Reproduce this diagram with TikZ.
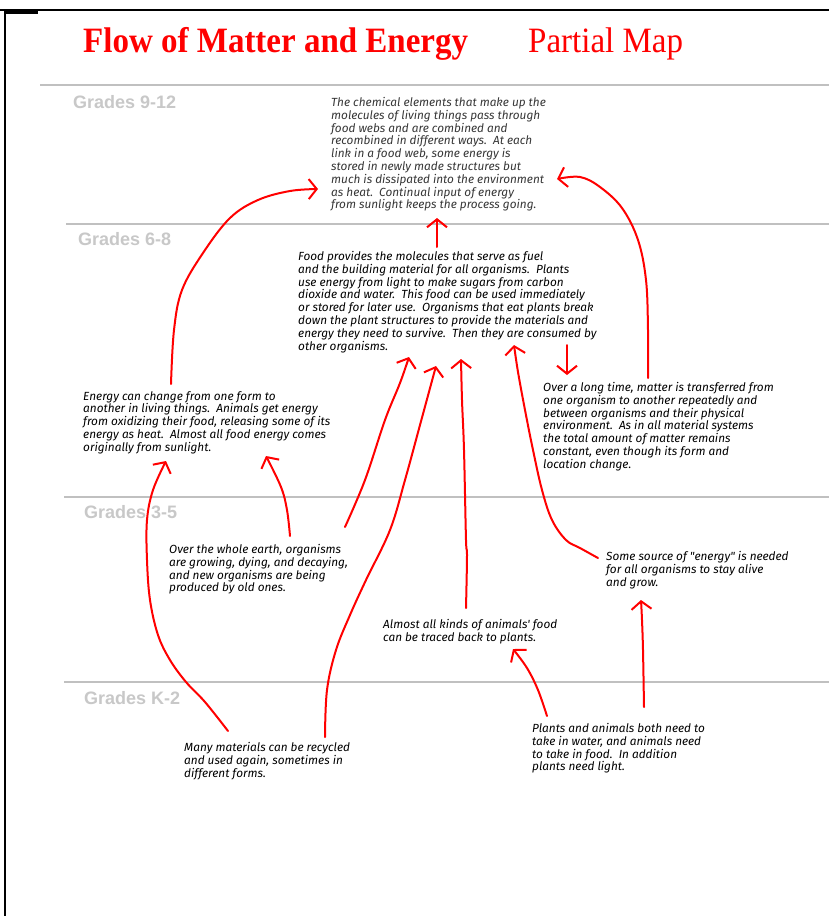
\documentclass[tikz,border=0pt]{standalone}
\usepackage{fontspec}
\setmainfont{Liberation Serif}
\newfontfamily\hand{Fira Sans}
\newfontfamily\gradefont{Liberation Sans}
\usetikzlibrary{arrows.meta}
\definecolor{mapred}{RGB}{255,0,0}
\definecolor{gradegray}{RGB}{200,200,200}
\definecolor{linegray}{RGB}{192,192,192}
\definecolor{txtgray}{RGB}{55,55,55}
\begin{document}
\begin{tikzpicture}[x=1pt,y=-1pt,
  body/.style={anchor=north west, inner sep=0pt, align=left, font=\hand\itshape\fontsize{11.8}{12.8}\selectfont},
  grade/.style={anchor=base west, inner sep=0pt, text=gradegray, font=\gradefont\bfseries\fontsize{18}{20}\selectfont},
  sepline/.style={draw=linegray, line width=2pt},
  arr/.style={draw=mapred, line width=2pt, line cap=round, line join=round,
    -{Straight Barb[length=8pt,width=20pt,line width=2pt]}},
  titlefont/.style={anchor=base west, inner sep=0pt, text=mapred, font=\fontsize{33}{36}\selectfont},
]
\useasboundingbox (0,0) rectangle (829,916);
\fill[white] (0,0) rectangle (829,916);
% frame
\draw[line width=2pt] (0,10) -- (829,10);
\draw[line width=2pt] (5,10) -- (5,916);
\draw[line width=3pt] (4,12) -- (38,12);
% title
\node[titlefont, font=\bfseries\fontsize{33}{36}\selectfont, yscale=1.08] (title) at (83,52) {Flow of Matter and Energy};
\node[titlefont, yscale=1.08] (partial) at (528,52) {Partial Map};
% separators
\draw[sepline] (40,85) -- (829,85);
\draw[sepline] (66,224) -- (829,224);
\draw[sepline] (64,497) -- (829,497);
\draw[sepline] (64,682) -- (829,682);
% grade labels
\node[grade] (g912) at (73,108) {Grades 9-12};
\node[grade] (g68) at (78,245) {Grades 6-8};
\node[grade] (g35) at (84,518) {Grades 3-5};
\node[grade] (gk2) at (84,704) {Grades K-2};
% texts
\node[body, text=txtgray] (t912) at (331,97) {The chemical elements that make up the\\
molecules of living things pass through\\
food webs and are combined and\\
recombined in different ways.\ \ At each\\
link in a food web, some energy is\\
stored in newly made structures but\\
much is dissipated into the environment\\
as heat.\ \ Continual input of energy\\
from sunlight keeps the process going.};
\node[body] (t68) at (298,251) {Food provides the molecules that serve as fuel\\
and the building material for all organisms.\ \ Plants\\
use energy from light to make sugars from carbon\\
dioxide and water.\ \ This food can be used immediately\\
or stored for later use.\ \ Organisms that eat plants break\\
down the plant structures to provide the materials and\\
energy they need to survive.\ \ Then they are consumed by\\
other organisms.};
\node[body] (tleft) at (83,391) {Energy can change from one form to\\
another in living things.\ \ Animals get energy\\
from oxidizing their food, releasing some of its\\
energy as heat.\ \ Almost all food energy comes\\
originally from sunlight.};
\node[body] (tright) at (543,382) {Over a long time, matter is transferred from\\
one organism to another repeatedly and\\
between organisms and their physical\\
environment.\ \ As in all material systems\\
the total amount of matter remains\\
constant, even though its form and\\
location change.};
\node[body] (tearth) at (169,544) {Over the whole earth, organisms\\
are growing, dying, and decaying,\\
and new organisms are being\\
produced by old ones.};
\node[body] (tsource) at (606,551) {Some source of "energy" is needed\\
for all organisms to stay alive\\
and grow.};
\node[body] (tanimals) at (383,619) {Almost all kinds of animals' food\\
can be traced back to plants.};
\node[body] (tmany) at (184,742) {Many materials can be recycled\\
and used again, sometimes in\\
different forms.};
\node[body] (tplants) at (532,723) {Plants and animals both need to\\
take in water, and animals need\\
to take in food.\ \ In addition\\
plants need light.};
% arrow end coordinates
\coordinate (A0) at (171,384);  \coordinate (A1) at (318,189);
\coordinate (B0) at (648,378);  \coordinate (B1) at (557,179);
\coordinate (C0) at (437,247);  \coordinate (C1) at (437,218);
\coordinate (D0) at (567,345);  \coordinate (D1) at (567,375);
\coordinate (E0) at (345,527);  \coordinate (E1) at (409,357);
\coordinate (F0) at (325,737);  \coordinate (F1) at (436,366);
\coordinate (G0) at (466,608);  \coordinate (G1) at (461,359);
\coordinate (H0) at (598,558);  \coordinate (H1) at (514,345);
\coordinate (I0) at (547,716);  \coordinate (I1) at (513,649);
\coordinate (J0) at (644,707);  \coordinate (J1) at (641,600);
\coordinate (K0) at (228,731);  \coordinate (K1) at (166,461);
\coordinate (L0) at (290,536);  \coordinate (L1) at (266,456);
% arrows
\draw[arr] plot[smooth, tension=0.6] coordinates {(A0) (174,330) (182,290) (203,253) (230,218) (258,200) (290,191) (A1)};
\draw[arr] plot[smooth, tension=0.6] coordinates {(B0) (648,330) (646,280) (638,240) (622,208) (600,187) (580,177) (B1)};
\draw[arr] (C0) -- (C1);
\draw[arr] (D0) -- (D1);
\draw[arr] plot[smooth, tension=0.6] coordinates {(E0) (365,480) (385,420) (400,383) (E1)};
\draw[arr] plot[smooth, tension=0.6] coordinates {(F0) (327,690) (336,650) (350,615) (366,580) (390,530) (405,480) (420,425) (F1)};
\draw[arr] plot[smooth, tension=0.6] coordinates {(G0) (467,555) (466,540) (464,450) (462,400) (G1)};
\draw[arr] plot[smooth, tension=0.6] coordinates {(H0) (580,548) (566,540) (552,520) (542,490) (533,450) (525,410) (518,372) (H1)};
\draw[arr] plot[smooth, tension=0.6] coordinates {(I0) (538,690) (527,668) (I1)};
\draw[arr] plot[smooth, tension=0.6] coordinates {(J0) (643,650) (642,620) (J1)};
\draw[arr] plot[smooth, tension=0.6] coordinates {(K0) (205,702) (186,682) (170,660) (158,635) (150,600) (147,560) (147,520) (153,490) (K1)};
\draw[arr] plot[smooth, tension=0.6] coordinates {(L0) (287,510) (281,487) (L1)};
\end{tikzpicture}
\end{document}
